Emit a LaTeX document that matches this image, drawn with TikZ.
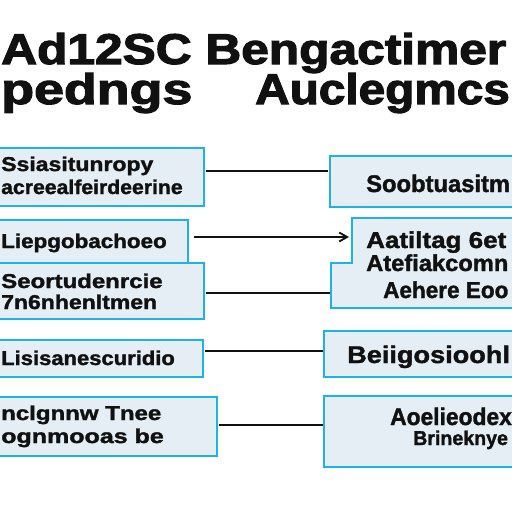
\documentclass[tikz,border=0pt]{standalone}
\usepackage{fontspec}
\setmainfont{Liberation Sans}
\newfontfamily\heavy[FakeBold=1.5]{Liberation Sans Bold}
\newfontfamily\heavytitle[FakeBold=2.5]{Liberation Sans Bold}
\usetikzlibrary{arrows.meta}
\definecolor{boxline}{HTML}{1FB2E6}
\definecolor{boxfill}{HTML}{E4EEF4}
\definecolor{ink}{HTML}{111111}
\begin{document}
\begin{tikzpicture}[x=1pt,y=-1pt,
  box/.style={draw=boxline,fill=boxfill,line width=2.6pt},
  conn/.style={draw=ink,line width=1.8pt},
  title/.style={font=\fontsize{43}{43}\heavytitle,text=ink,inner sep=0pt,anchor=base west,transform shape},
  ltxt/.style={font=\fontsize{20}{20}\heavy,text=ink,inner sep=0pt,anchor=base west,transform shape},
  rtxt/.style={font=\fontsize{23}{23}\heavy,text=ink,inner sep=0pt,anchor=base west,transform shape}]
\useasboundingbox (0,0) rectangle (512,512);
\begin{scope}
\clip (0,0) rectangle (512,512);
% title
\node[title,xscale=1.155] (t1) at (1,64) {Ad12SC Bengactimer};
\node[title,xscale=1.25] (t2) at (1,104) {pedngs};
\node[title,xscale=1.11] (t3) at (255,104) {Auclegmcs};
% left boxes
\draw[box] (-10,148) rectangle (204,206);
\draw[box] (-10,220) rectangle (188,264);
\draw[box] (-10,263) rectangle (204,319);
\draw[box] (-10,340) rectangle (203,377);
\draw[box] (-10,397) rectangle (217,456);
% right boxes
\draw[box] (330,156) rectangle (530,207);
\draw[box] (352,218) -- (352,263) -- (331,263) -- (331,308) -- (530,308) -- (530,218) -- cycle;
\draw[box] (324,331) rectangle (530,377);
\draw[box] (324,396) rectangle (530,467);
% texts
\node[ltxt,xscale=1.15] (a1) at (1,171) {Ssiasitunropy};
\node[ltxt,xscale=1.06] (a2) at (1,194) {acreealfeirdeerine};
\node[ltxt,xscale=1.12] (a3) at (1,248) {Liepgobachoeo};
\node[ltxt,xscale=1.2] (a4) at (1,288) {Seortudenrcie};
\node[ltxt,xscale=1.15] (a5) at (1,309) {7n6nhenltmen};
\node[ltxt,xscale=1.1] (a6) at (1,365) {Lisisanescuridio};
\node[ltxt,xscale=1.2] (a7) at (1,420) {nclgnnw Tnee};
\node[ltxt,xscale=1.25] (a8) at (1,443) {ognmooas be};
\node[rtxt,font=\fontsize{24}{24}\heavy,xscale=0.99] (b1) at (366,192) {Soobtuasitm};
\node[rtxt,xscale=1.13] (b2) at (366,248) {Aatiltag 6et};
\node[rtxt,xscale=1.03] (b3) at (366,271) {Atefiakcomn};
\node[rtxt,xscale=0.98] (b4) at (383,298) {Aehere Eoo};
\node[rtxt,font=\fontsize{24}{24}\heavy,xscale=1.13] (b5) at (347,363) {Beiigosioohl};
\node[rtxt,font=\fontsize{24}{24}\heavy,xscale=0.95] (b6) at (390,425) {Aoelieodex};
\node[rtxt,font=\fontsize{20}{20}\heavy,xscale=0.98] (b7) at (413,445) {Brineknye};
% connectors
\coordinate (c1a) at (206,171); \coordinate (c1b) at (328,171);
\coordinate (c2a) at (194,237); \coordinate (c2b) at (349,237);
\coordinate (c3a) at (206,293); \coordinate (c3b) at (330,293);
\coordinate (c4a) at (205,351); \coordinate (c4b) at (323,351);
\coordinate (c5a) at (219,425); \coordinate (c5b) at (323,425);
\draw[conn] (c1a) -- (c1b);
\draw[conn,-{Straight Barb[length=8pt,width=9pt]}] (c2a) -- (c2b);
\draw[conn] (c3a) -- (c3b);
\draw[conn] (c4a) -- (c4b);
\draw[conn] (c5a) -- (c5b);
\end{scope}
\end{tikzpicture}
\end{document}
